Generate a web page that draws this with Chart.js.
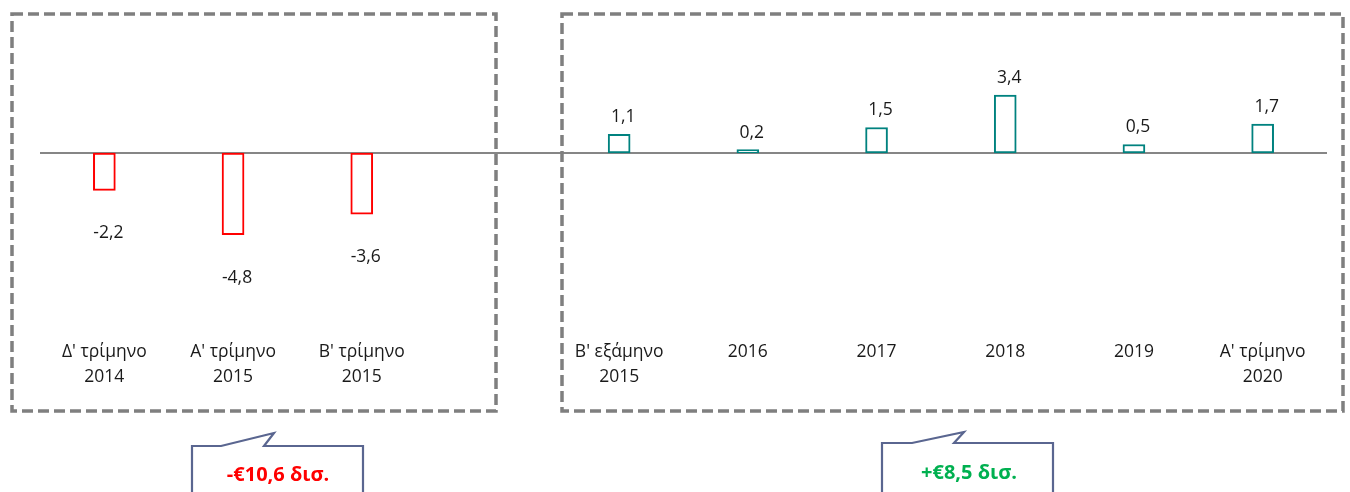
<!DOCTYPE html>
<html>
<head>
<meta charset="utf-8">
<script src="https://cdn.jsdelivr.net/npm/chart.js@4/dist/chart.umd.min.js"></script>
<style>
  html, body { margin: 0; padding: 0; background: #ffffff; }
  #wrap { width: 1350px; height: 492px; position: relative; }
</style>
</head>
<body>
<div id="wrap"><canvas id="c" width="1350" height="492"></canvas></div>
<script>
// ---- data ----
const categories = [
  ["Δ' τρίμηνο", "2014"],
  ["Α' τρίμηνο", "2015"],
  ["Β' τρίμηνο", "2015"],
  "",
  ["Β' εξάμηνο", "2015"],
  "2016",
  "2017",
  "2018",
  "2019",
  ["Α' τρίμηνο", "2020"]
];
const balanceValues = [-2.2, -4.8, -3.6, null, 1.1, 0.2, 1.5, 3.4, 0.5, 1.7];
const summaryLabels = ["-€10,6 δισ.", "+€8,5 δισ."];

// ---- styles ----
const RED = '#ff0000';
const TEAL = '#00827f';
const FONT = "'Open Sans', 'Noto Sans', sans-serif";

const fmt = v => v.toFixed(1).replace('.', ',');

const decorPlugin = {
  id: 'decor',
  beforeDatasetsDraw(chart) {
    const { ctx, chartArea, scales } = chart;
    const y0 = scales.y.getPixelForValue(0);
    ctx.save();
    ctx.strokeStyle = '#868686';
    ctx.lineWidth = 2;
    ctx.beginPath();
    ctx.moveTo(chartArea.left, y0);
    ctx.lineTo(chartArea.right, y0);
    ctx.stroke();
    ctx.restore();
  },
  afterDatasetsDraw(chart) {
    const { ctx } = chart;
    const meta = chart.getDatasetMeta(0);
    ctx.save();
    ctx.font = '17.5px ' + FONT;
    ctx.fillStyle = '#1a1a1a';
    ctx.textAlign = 'center';
    ctx.textBaseline = 'alphabetic';
    meta.data.forEach((bar, i) => {
      const v = balanceValues[i];
      if (v === null || v === undefined) return;
      const props = bar.getProps(['x', 'y', 'base'], true);
      if (v >= 0) {
        ctx.fillText(fmt(v), props.x + 4, props.y - 12);
      } else {
        ctx.fillText(fmt(v), props.x + 4, props.y + 48);
      }
    });

    // dashed group boxes
    ctx.strokeStyle = '#7f7f7f';
    ctx.lineWidth = 3.5;
    ctx.setLineDash([11, 5]);
    ctx.strokeRect(12, 14, 484, 397);
    ctx.strokeRect(562, 14, 781, 397);
    ctx.setLineDash([]);

    // callouts
    ctx.strokeStyle = '#5a6690';
    ctx.lineWidth = 2.2;
    ctx.fillStyle = '#ffffff';
    const callout = (pts) => {
      ctx.beginPath();
      ctx.moveTo(pts[0][0], pts[0][1]);
      for (let k = 1; k < pts.length; k++) ctx.lineTo(pts[k][0], pts[k][1]);
      ctx.fill();
      ctx.stroke();
    };
    callout([[192, 500], [192, 446], [221, 446], [274, 433], [264, 446], [363, 446], [363, 500]]);
    callout([[882, 500], [882, 443], [912, 443], [964, 432], [954, 443], [1053, 443], [1053, 500]]);

    ctx.font = 'bold 20px ' + FONT;
    ctx.textAlign = 'center';
    ctx.fillStyle = '#ff0000';
    ctx.fillText(summaryLabels[0], 278, 481);
    ctx.fillStyle = '#00b050';
    ctx.fillText(summaryLabels[1], 969, 479);
    ctx.restore();
  }
};

new Chart(document.getElementById('c'), {
  type: 'bar',
  data: {
    labels: categories,
    datasets: [{
      data: balanceValues,
      backgroundColor: '#ffffff',
      borderColor: c => (c.raw < 0 ? RED : TEAL),
      borderWidth: 2,
      borderSkipped: false,
      barThickness: 22
    }]
  },
  options: {
    responsive: false,
    animation: false,
    devicePixelRatio: 1,
    layout: { padding: { left: 40, right: 23, top: 30, bottom: 0 } },
    plugins: { legend: { display: false }, tooltip: { enabled: false } },
    scales: {
      x: {
        grid: { display: false, drawTicks: false },
        border: { display: false },
        ticks: {
          autoSkip: false,
          maxRotation: 0,
          minRotation: 0,
          padding: 5,
          color: '#1a1a1a',
          font: { family: FONT, size: 17.5, lineHeight: 1.42 }
        },
        afterFit: s => { s.height = 157; }
      },
      y: {
        display: false,
        min: -10.706,
        max: 7.235
      }
    }
  },
  plugins: [decorPlugin]
});
</script>
</body>
</html>
